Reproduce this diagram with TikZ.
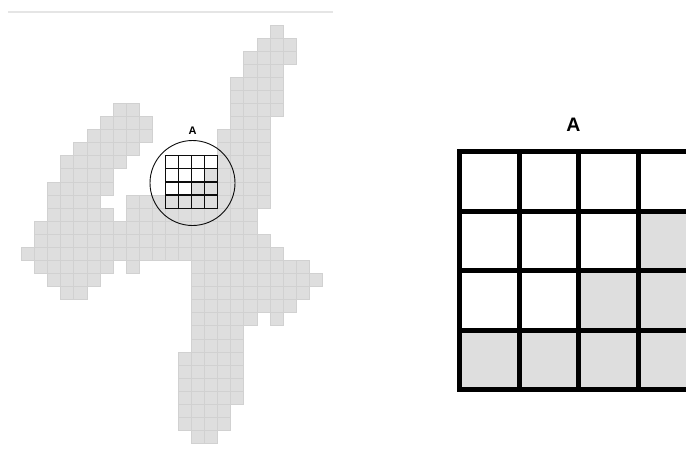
\documentclass[tikz,border=0pt]{standalone}
\usepackage{fontspec}
\setsansfont{Liberation Sans}
\usetikzlibrary{positioning}
\definecolor{pixelGray}{RGB}{222,222,222}
\definecolor{pixelEdge}{RGB}{209,209,209}
\definecolor{ruleGray}{RGB}{229,229,229}
\definecolor{inkBlack}{RGB}{12,12,12}
\newcommand{\cellsz}{13.08}
\newcommand{\bigsz}{59.6}
\tikzset{
    pixcell/.style={
        fill=pixelGray,
        draw=pixelEdge,
        line width=0.8pt
    },
    bigcell/.style={
        fill=pixelGray,
        draw=none
    },
    lensgrid/.style={draw=inkBlack, line width=1.2pt, line cap=rect},
    lensring/.style={
        circle,
        draw=inkBlack,
        line width=0.9pt,
        minimum size=85pt,
        inner sep=0pt
    },
    biggrid/.style={draw=black, line width=5pt, line cap=rect},
    smalllabel/.style={font=\sffamily\bfseries\fontsize{11}{13}\selectfont, inner sep=0pt},
    biglabel/.style={font=\sffamily\bfseries\fontsize{19.5}{22}\selectfont, inner sep=0pt},
    topline/.style={draw=ruleGray, line width=1.2pt}
}

\begin{document}
\begin{tikzpicture}[x=1pt, y=-1pt]
    \useasboundingbox (0,0) rectangle (686,450);

    % faint rule over the digit
    \coordinate (ruleL) at (8,12);
    \coordinate (ruleR) at (333,12);
    \draw[topline] (ruleL) -- (ruleR);

    % pixels of the handwritten 4, row/first/last column
    \coordinate (digitorigin) at (21.5,25);
    \begin{scope}[shift={(digitorigin)}]
        \foreach \r/\a/\b in {0/19/19, 1/18/20, 2/17/20, 3/17/19, 4/16/19, 5/16/19,
            6/7/8, 6/16/19, 7/6/9, 7/16/18, 8/5/9, 8/15/18, 9/4/8, 9/15/18,
            10/3/7, 10/15/18, 11/3/6, 11/14/18, 12/2/6, 12/13/18,
            13/2/5, 13/8/18, 14/2/6, 14/8/17, 15/1/17, 16/1/18, 17/0/19,
            18/1/6, 18/8/8, 18/13/21, 19/2/5, 19/13/22, 20/3/4, 20/13/21,
            21/13/20, 22/13/17, 22/19/19, 23/13/16, 24/13/16,
            25/12/16, 26/12/16, 27/12/16, 28/12/16, 29/12/15, 30/12/15, 31/13/14}
            \foreach \c in {\a,...,\b}
                \draw[pixcell] ({\cellsz*\c},{\cellsz*\r}) rectangle ++(\cellsz,\cellsz);

        % the 4x4 block that is magnified
        \coordinate (lensorigin) at ({11*\cellsz},{10*\cellsz});
    \end{scope}

    % magnifier A
    \node[lensring] (lens) at (192.5,183) {};
    \node[smalllabel, above=5pt of lens] (lensA) {A};
    \begin{scope}[shift={(lensorigin)}]
        \foreach \k in {0,...,4} {
            \draw[lensgrid] ({\cellsz*\k},0) -- ({\cellsz*\k},{4*\cellsz});
            \draw[lensgrid] (0,{\cellsz*\k}) -- ({4*\cellsz},{\cellsz*\k});
        }
    \end{scope}

    % enlarged region A
    \node[biglabel] (zoomA) at (573.5,125) {A};
    \coordinate (bigorigin) at (459.5,151.5);
    \begin{scope}
        \clip (0,0) rectangle (686,450);
        \begin{scope}[shift={(bigorigin)}]
            \foreach \r/\c in {1/3, 2/2, 2/3, 3/0, 3/1, 3/2, 3/3}
                \fill[bigcell] ({\bigsz*\c},{\bigsz*\r}) rectangle ++(\bigsz,\bigsz);
            \foreach \k in {0,...,4} {
                \draw[biggrid] ({\bigsz*\k},0) -- ({\bigsz*\k},{4*\bigsz});
                \draw[biggrid] (0,{\bigsz*\k}) -- ({4*\bigsz},{\bigsz*\k});
            }
        \end{scope}
    \end{scope}
\end{tikzpicture}
\end{document}
